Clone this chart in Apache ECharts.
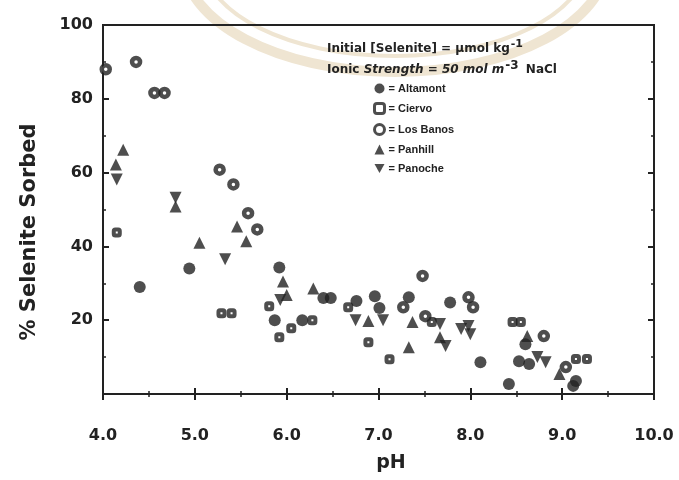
<!DOCTYPE html>
<html>
<head>
<meta charset="utf-8">
<script src="https://cdn.jsdelivr.net/npm/echarts@6/dist/echarts.min.js"></script>
<style>
  html, body { margin: 0; padding: 0; background: #fff; }
  #chart { width: 679px; height: 480px; }
</style>
</head>
<body>
<div id="chart"></div>
<script>
  // values: [pH, % selenite sorbed]
  const altamont = [[4.40, 29], [4.94, 34], [5.92, 34.3], [5.87, 20], [6.17, 20], [6.40, 26], [6.48, 26],
    [6.76, 25.2], [6.96, 26.5], [7.01, 23.3], [7.33, 26.2], [7.78, 24.8], [8.11, 8.6], [8.42, 2.7],
    [8.53, 8.9], [8.64, 8.1], [8.60, 13.5], [9.15, 3.5], [9.12, 2.2]]
  const ciervo = [[4.15, 43.8], [5.29, 21.9], [5.40, 21.9], [5.81, 23.8], [5.92, 15.4], [6.05, 17.8],
    [6.28, 20], [6.67, 23.5], [6.89, 14], [7.12, 9.4], [7.58, 19.5], [8.46, 19.5], [8.55, 19.5],
    [9.15, 9.5], [9.27, 9.5]]
  const losBanos = [[4.03, 88], [4.36, 90], [4.56, 81.6], [4.67, 81.6], [5.27, 60.8], [5.42, 56.8],
    [5.58, 49], [5.68, 44.6], [7.27, 23.5], [7.48, 32], [7.51, 21.1], [7.98, 26.2], [8.03, 23.5],
    [8.80, 15.7], [9.04, 7.3]]
  const panhill = [[4.14, 62.2], [4.22, 66.2], [4.79, 50.8], [5.05, 41], [5.46, 45.4], [5.56, 41.4],
    [5.96, 30.5], [6.00, 26.8], [6.29, 28.6], [6.89, 19.8], [7.37, 19.5], [7.33, 12.7], [7.67, 15.4],
    [8.62, 15.7], [8.97, 5.4]]
  const panoche = [[4.15, 58.1], [4.79, 53.2], [5.33, 36.5], [5.93, 25.5], [6.75, 20], [7.05, 20],
    [7.67, 19], [7.73, 13], [7.90, 17.6], [7.98, 18.4], [8.00, 16.2], [8.73, 10], [8.82, 8.6]]
  const xTicks = [4, 5, 6, 7, 8, 9, 10]
  const yTicks = [20, 40, 60, 80, 100]

  const ink = '#222'
  const font = 'DejaVu Sans'
  const stamp = '#efe5d2'

  const chart = echarts.init(document.getElementById('chart'))

  function axisCommon(showLabel) {
    return {
      axisLine: { show: true, lineStyle: { color: ink, width: 2 } },
      axisTick: { show: true, inside: true, length: 6, lineStyle: { color: ink, width: 2 } },
      minorTick: { show: true, splitNumber: 2, length: 3, lineStyle: { color: ink, width: 1.5 } },
      splitLine: { show: false },
      axisLabel: { show: showLabel, color: ink, fontFamily: font, fontWeight: 'bold', fontSize: 16 }
    }
  }

  const xBase = { type: 'value', min: xTicks[0], max: xTicks[xTicks.length - 1], interval: 1 }
  const yBase = { type: 'value', min: 0, max: yTicks[yTicks.length - 1], interval: 20 }

  const xBottom = Object.assign({}, xBase, axisCommon(true), { position: 'bottom' })
  xBottom.axisLabel.margin = 34
  xBottom.axisLabel.formatter = v => v.toFixed(1)
  const xTop = Object.assign({}, xBase, axisCommon(false), { position: 'top' })
  const yLeft = Object.assign({}, yBase, axisCommon(true), { position: 'left' })
  yLeft.axisLabel.margin = 10
  yLeft.axisLabel.formatter = v => (v === 0 ? '' : String(v))
  const yRight = Object.assign({}, yBase, axisCommon(false), { position: 'right' })

  function scatter(name, data, symbol, size, ring) {
    return {
      name: name,
      type: 'scatter',
      data: data,
      symbol: symbol,
      symbolSize: size,
      z: 3,
      itemStyle: ring
        ? { color: '#fff', borderColor: ink, borderWidth: ring }
        : { color: ink }
    }
  }

  const option = {
    backgroundColor: '#ffffff',
    animation: false,
    grid: { left: 103, right: 25, top: 25, bottom: 86, show: true, borderColor: ink, borderWidth: 2 },
    title: [{
      text: 'Initial [Selenite] = µmol kg{sup|-1}',
      left: 322, top: 34,
      textStyle: {
        fontFamily: font, fontWeight: 'bold', fontSize: 12, color: ink,
        rich: { sup: { fontFamily: font, fontWeight: 'bold', fontSize: 11, color: ink, verticalAlign: 'top', padding: [0, 0, 8, 1] } }
      }
    }, {
      text: 'Ionic {it|Strength = 50 mol m}{sup|-3} NaCl',
      left: 322, top: 55,
      textStyle: {
        fontFamily: font, fontWeight: 'bold', fontSize: 12, color: ink,
        rich: {
          it: { fontFamily: font, fontWeight: 'bold', fontStyle: 'italic', fontSize: 12, color: ink },
          sup: { fontFamily: font, fontWeight: 'bold', fontSize: 12, color: ink, verticalAlign: 'top', padding: [0, 3, 8, 1] }
        }
      }
    }],
    legend: {
      orient: 'vertical',
      left: 368, top: 78,
      itemWidth: 10, itemHeight: 10, itemGap: 8,
      data: [
        { name: 'Altamont' },
        { name: 'Ciervo', itemStyle: { borderWidth: 3 } },
        { name: 'Los Banos', itemStyle: { borderWidth: 3 } },
        { name: 'Panhill' },
        { name: 'Panoche' }
      ],
      formatter: n => '= ' + n,
      textStyle: { fontFamily: 'Liberation Sans', fontWeight: 'bold', fontSize: 11, color: ink, padding: [0, 0, 0, -1] }
    },
    xAxis: [xBottom, xTop],
    yAxis: [yLeft, yRight],
    graphic: [{
      type: 'ellipse', z: -10, silent: true,
      shape: { cx: 395, cy: -40, rx: 212, ry: 112 },
      style: { fill: 'none', stroke: stamp, lineWidth: 10 }
    }, {
      type: 'ellipse', z: -10, silent: true,
      shape: { cx: 395, cy: -40, rx: 192, ry: 96 },
      style: { fill: 'none', stroke: stamp, lineWidth: 4 }
    }, {
      type: 'text', x: 30, y: 232, rotation: Math.PI / 2,
      style: { text: '% Selenite Sorbed', fontFamily: font, fontWeight: 'bold', fontSize: 21, fill: ink, align: 'center', verticalAlign: 'middle' }
    }, {
      type: 'text', x: 391, y: 463,
      style: { text: 'pH', fontFamily: font, fontWeight: 'bold', fontSize: 19, fill: ink, align: 'center', verticalAlign: 'middle' }
    }],
    series: [
      scatter('Altamont', altamont, 'circle', 12, 0),
      scatter('Ciervo', ciervo, 'roundRect', 6, 4),
      scatter('Los Banos', losBanos, 'circle', 8, 4.5),
      scatter('Panhill', panhill, 'triangle', 12, 0),
      scatter('Panoche', panoche, 'path://M0,0 L10,0 L5,9 Z', 12, 0)
    ]
  }

  chart.setOption(option)
</script>
</body>
</html>
